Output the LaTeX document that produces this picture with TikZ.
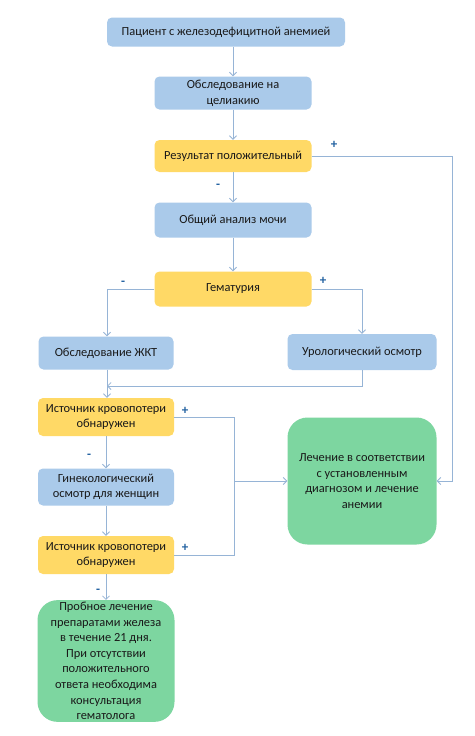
\documentclass[tikz,border=0pt]{standalone}
\usepackage{fontspec}
\setmainfont{Carlito}
\usetikzlibrary{arrows.meta,positioning,calc}
\definecolor{boxblue}{RGB}{170,202,234}
\definecolor{boxyellow}{RGB}{255,217,102}
\definecolor{boxgreen}{RGB}{125,214,160}
\definecolor{linecol}{RGB}{150,180,214}
\definecolor{signcol}{RGB}{31,95,160}
\definecolor{txt}{RGB}{25,25,25}
\tikzset{
  base/.style={draw=none, rounded corners=5pt, align=center, text=txt, font=\fontsize{12.4}{15.6}\selectfont, inner sep=2pt},
  bluebox/.style={base, fill=boxblue},
  yellowbox/.style={base, fill=boxyellow},
  greenbox/.style={base, fill=boxgreen, rounded corners=20pt},
  conn/.style={draw=linecol, line width=0.8pt},
  arr/.style={conn, -{Straight Barb[length=3.5pt,width=7pt]}},
  sign/.style={text=signcol, font=\bfseries\fontsize{13}{14}\selectfont, inner sep=0pt}
}
\begin{document}
\begin{tikzpicture}[x=1pt,y=-1pt]
\useasboundingbox[fill=white] (0,0) rectangle (474,736);
\node[bluebox, minimum width=238pt, minimum height=29pt] (b1) at (226,32) {Пациент с железодефицитной анемией};
\node[bluebox, minimum width=157pt, minimum height=33pt] (b2) at (233,93) {Обследование на\\целиакию};
\node[yellowbox, minimum width=157pt, minimum height=32pt] (b3) at (233,156) {Результат положительный};
\node[bluebox, minimum width=157pt, minimum height=35pt] (b4) at (233,220) {Общий анализ мочи};
\node[yellowbox, minimum width=157pt, minimum height=35pt] (b5) at (233,289) {Гематурия};
\node[bluebox, minimum width=135pt, minimum height=33pt] (b6) at (106,353) {Обследование ЖКТ};
\node[bluebox, minimum width=149pt, minimum height=36pt] (b7) at (362,352) {Урологический осмотр};
\node[yellowbox, minimum width=136pt, minimum height=38pt] (b8) at (106,417) {Источник кровопотери\\обнаружен};
\node[bluebox, minimum width=136pt, minimum height=37pt] (b9) at (106,487) {Гинекологический\\осмотр для женщин};
\node[yellowbox, minimum width=136pt, minimum height=38pt] (b10) at (106,555) {Источник кровопотери\\обнаружен};
\node[greenbox, minimum width=137pt, minimum height=116pt] (b11) at (106,661) {Пробное лечение\\препаратами железа\\в течение 21 дня.\\При отсутствии\\положительного\\ответа необходима\\консультация\\гематолога};
\node[greenbox, minimum width=149pt, minimum height=127pt] (g) at (362,481) {Лечение в соответствии\\с установленным\\диагнозом и лечение\\анемии};

\coordinate (rt) at (452,156);
\coordinate (j) at (107,386);
\coordinate (m) at (234,481);

\draw[arr] (b2.north |- b1.south) -- (b2.north);
\draw[arr] (b2.south) -- (b3.north);
\draw[arr] (b3.south) -- (b4.north);
\draw[arr] (b4.south) -- (b5.north);
\draw[conn] (b3.east) -- (rt);
\draw[arr] (rt) |- (g.east);
\draw[arr] (b5.west) -| (j |- b6.north);
\draw[arr] (b5.east) -| (b7.north);
\draw[arr] (j |- b6.south) -- (j |- b8.north);
\draw[arr] (b7.south) |- (j);
\draw[conn] (b8.east) -| (m);
\draw[conn] (b10.east) -| (m);
\draw[arr] (m) -- (g.west);
\draw[arr] (b8.south) -- (b9.north);
\draw[arr] (b9.south) -- (b10.north);
\draw[arr] (b10.south) -- (b11.north);

\node[sign] (p1) at (334,145) {+};
\node[sign] (n1) at (218,186) {-};
\node[sign] (n2) at (123,283) {-};
\node[sign] (p2) at (323,281) {+};
\node[sign] (p3) at (185,411) {+};
\node[sign] (n3) at (89,456) {-};
\node[sign] (p4) at (185,548) {+};
\node[sign] (n4) at (98,591) {-};
\end{tikzpicture}
\end{document}
